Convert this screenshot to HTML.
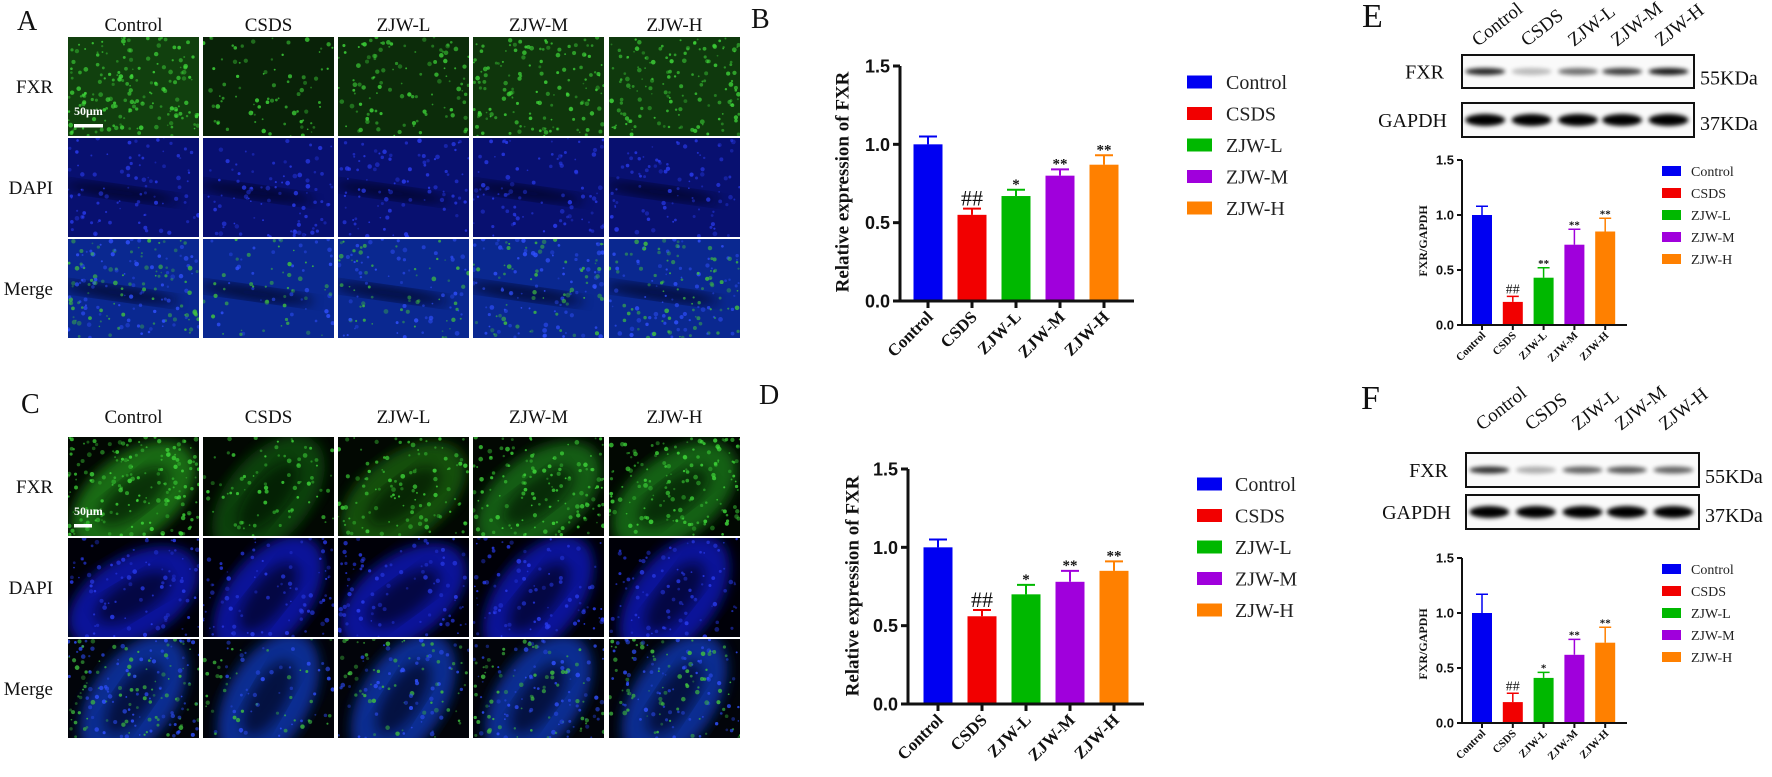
<!DOCTYPE html>
<html><head><meta charset="utf-8">
<style>
html,body{margin:0;padding:0;background:#fff;}
svg{display:block;}
.serif{font-family:"Liberation Serif",serif;}
.sans{font-family:"Liberation Sans",sans-serif;}
</style></head>
<body>
<svg id="fig" width="1772" height="777" viewBox="0 0 1772 777" xmlns="http://www.w3.org/2000/svg">
<defs>
  <filter id="blur2" x="-20%" y="-100%" width="140%" height="300%"><feGaussianBlur stdDeviation="2"/></filter>
  <filter id="blur1"><feGaussianBlur stdDeviation="0.8"/></filter>
  <filter id="blur6"><feGaussianBlur stdDeviation="6"/></filter>
</defs>
<g id="micro"></g>
<g id="charts"></g>
<g id="blots"></g>
</svg>
<script>
// ---------- DATA ----------
const categories = ['Control','CSDS','ZJW-L','ZJW-M','ZJW-H'];
const barColors = ['#0000f2','#f20000','#00b800','#a000dc','#ff8000'];
const bValues = [1.00, 0.55, 0.67, 0.80, 0.87];
const bErrors = [0.05, 0.04, 0.04, 0.04, 0.06];
const bMarks = ['', '##', '*', '**', '**'];
const dValues = [1.00, 0.56, 0.70, 0.78, 0.85];
const dErrors = [0.05, 0.04, 0.06, 0.07, 0.06];
const dMarks = ['', '##', '*', '**', '**'];
const eValues = [1.00, 0.21, 0.43, 0.73, 0.85];
const eErrors = [0.08, 0.05, 0.09, 0.14, 0.12];
const eMarks = ['', '##', '**', '**', '**'];
const fValues = [1.00, 0.19, 0.41, 0.62, 0.73];
const fErrors = [0.17, 0.08, 0.05, 0.14, 0.14];
const fMarks = ['', '##', '*', '**', '**'];
const yTicks = [0, 0.5, 1.0, 1.5];
const yTickLabels = ['0.0', '0.5', '1.0', '1.5'];
const eFxrBand = [0.85, 0.25, 0.55, 0.75, 0.9];
const fFxrBand = [0.8, 0.3, 0.6, 0.65, 0.6];

const NS = 'http://www.w3.org/2000/svg';
function mk(tag, attrs, parent, text) {
  const el = document.createElementNS(NS, tag);
  for (const k in attrs) el.setAttribute(k, attrs[k]);
  if (text !== undefined) el.textContent = text;
  if (parent) parent.appendChild(el);
  return el;
}
const charts = document.getElementById('charts');
const blots = document.getElementById('blots');
const micro = document.getElementById('micro');

// ---------- BAR CHARTS ----------
function drawChart(cfg) {
  const g = mk('g', {}, charts);
  
  
  const yScale = v => cfg.y0 - (v / 1.5) * (cfg.y0 - cfg.yTop);
  const xScale = i => cfg.c0 + i * cfg.step;
  // bars
  cfg.values.forEach((v, i) => {
    const cx = xScale(i), top = yScale(v), et = yScale(v + cfg.errors[i]);
    const bar = mk('rect', {x: cx - cfg.bw/2, y: top, width: cfg.bw, height: cfg.y0 - top, fill: barColors[i]}, g);
    
    
    const eb = mk('path', {d: `M${cx},${top} V${et} M${cx - cfg.cap},${et} H${cx + cfg.cap}`, stroke: barColors[i], 'stroke-width': cfg.ew, fill: 'none'}, g);
    
    
    if (cfg.marks[i]) {
      const isHash = cfg.marks[i].indexOf('#') >= 0;
      const t = mk('text', {x: cx, y: et - (isHash ? 3 : 1), 'text-anchor': 'middle', class: 'serif',
        'font-size': isHash ? cfg.hashFs : cfg.starFs, 'font-weight': isHash ? 'normal' : 'bold', fill: '#111'}, g, cfg.marks[i]);
      
      
    }
    // x tick + label
    mk('line', {x1: cx, x2: cx, y1: cfg.y0, y2: cfg.y0 + cfg.tl, stroke: '#111', 'stroke-width': cfg.aw}, g);
    const lx = cx + cfg.lblDx, ly = cfg.y0 + cfg.lblDy;
    const xl = mk('text', {x: lx, y: ly, 'text-anchor': 'end', class: 'serif', 'font-weight': 'bold', 'font-size': cfg.xFs, fill: '#111',
      transform: `rotate(-45 ${lx} ${ly})`}, g, categories[i]);
    
    
  });
  // axes
  const ax = mk('path', {d: `M${cfg.x0},${cfg.yTop} V${cfg.y0} H${cfg.xEnd}`, stroke: '#111', 'stroke-width': cfg.aw, fill: 'none'}, g);
  
  
  yTicks.forEach((v, i) => {
    const y = yScale(v);
    mk('line', {x1: cfg.x0 - cfg.tl, x2: cfg.x0, y1: y, y2: y, stroke: '#111', 'stroke-width': cfg.aw}, g);
    const tl = mk('text', {x: cfg.x0 - cfg.tl - 3, y: y + cfg.yFs*0.36, 'text-anchor': 'end', class: 'sans', 'font-weight': 'bold', 'font-size': cfg.yFs, fill: '#111'}, g, yTickLabels[i]);
    
    
  });
  const yt = mk('text', {x: cfg.tx, y: cfg.ty, 'text-anchor': 'middle', class: 'serif', 'font-weight': 'bold', 'font-size': cfg.tFs, fill: '#111',
    transform: `rotate(-90 ${cfg.tx} ${cfg.ty})`, 'dominant-baseline': 'central'}, g, cfg.title);
  
  
  // legend
  const lg = mk('g', {}, g);
  
  
  categories.forEach((c, i) => {
    const y = cfg.ly0 + i * cfg.lstep;
    const e = mk('g', {}, lg);
    
    
    mk('rect', {x: cfg.lx, y: y - cfg.lh/2, width: cfg.lw, height: cfg.lh, fill: barColors[i]}, e);
    mk('text', {x: cfg.ltx, y: y + cfg.lFs*0.35, class: 'serif', 'font-size': cfg.lFs, fill: '#222'}, e, c);
  });
}
const bigCfg = {bw: 29, step: 44, cap: 9, ew: 2, aw: 3, tl: 7, xFs: 17, yFs: 18, tFs: 19, hashFs: 22, starFs: 15,
  lblDx: 6, lblDy: 17, lw: 25, lh: 13, lstep: 31.5, lFs: 20, title: 'Relative expression of FXR'};
drawChart(Object.assign({}, bigCfg, {name: 'chart-b', values: bValues, errors: bErrors, marks: bMarks,
  x0: 900, y0: 301, yTop: 66, c0: 928, xEnd: 1134, tx: 843, ty: 182, lx: 1187, ltx: 1226, ly0: 82}));
drawChart(Object.assign({}, bigCfg, {name: 'chart-d', values: dValues, errors: dErrors, marks: dMarks,
  x0: 908, y0: 704, yTop: 469, c0: 938, xEnd: 1144, tx: 853, ty: 586, lx: 1197, ltx: 1235, ly0: 484}));
const smCfg = {bw: 20, step: 30.8, cap: 6, ew: 1.5, aw: 2, tl: 5, xFs: 11, yFs: 13, tFs: 12, hashFs: 14, starFs: 11,
  lblDx: 4, lblDy: 11, lw: 19, lh: 10, lstep: 22, lFs: 14, title: 'FXR/GAPDH'};
drawChart(Object.assign({}, smCfg, {name: 'chart-e', values: eValues, errors: eErrors, marks: eMarks,
  x0: 1462, y0: 325, yTop: 160, c0: 1482, xEnd: 1627, tx: 1423, ty: 241, lx: 1662, ltx: 1691, ly0: 171}));
drawChart(Object.assign({}, smCfg, {name: 'chart-f', values: fValues, errors: fErrors, marks: fMarks,
  x0: 1462, y0: 723, yTop: 558, c0: 1482, xEnd: 1627, tx: 1423, ty: 644, lx: 1662, ltx: 1691, ly0: 569}));

// ---------- WESTERN BLOTS ----------
function drawBlot(name, bx, bx2, fy, fy2, gy, gy2, laneY, fxrInt) {
  const g = mk('g', {}, blots);
  
  
  const w = bx2 - bx;
  const lanes = [0.1, 0.3, 0.5, 0.69, 0.89].map(f => bx + f * w);
  [[fy, fy2, 'fxr-blot'], [gy, gy2, 'gapdh-blot']].forEach(([a, b, n], k) => {
    const box = mk('rect', {x: bx, y: a, width: w, height: b - a, fill: '#fafafa', stroke: '#111', 'stroke-width': 2}, g);
    
    
    lanes.forEach((lx, i) => {
      const op = k === 0 ? fxrInt[i] : 1;
      mk('ellipse', {cx: lx, cy: (a + b) / 2, rx: 20, ry: k === 0 ? 3.5 : 6, fill: '#000', opacity: op, filter: 'url(#blur2)'}, g);
    });
  });
  const t1 = mk('text', {x: bx - 18, y: (fy + fy2) / 2 + 7, 'text-anchor': 'end', class: 'serif', 'font-size': 20, fill: '#111'}, g, 'FXR');
   
  const t2 = mk('text', {x: bx - 15, y: (gy + gy2) / 2 + 7, 'text-anchor': 'end', class: 'serif', 'font-size': 20, fill: '#111'}, g, 'GAPDH');
   
  const k1 = mk('text', {x: bx2 + 6, y: (fy + fy2) / 2 + 13, class: 'serif', 'font-size': 20, fill: '#111'}, g, '55KDa');
   
  const k2 = mk('text', {x: bx2 + 6, y: (gy + gy2) / 2 + 10, class: 'serif', 'font-size': 20, fill: '#111'}, g, '37KDa');
   
  const starts = [1478, 1527, 1574, 1617, 1661];
  categories.forEach((c, i) => {
    const x = starts[i] + (bx - 1462);
    const t = mk('text', {x: x, y: laneY, class: 'serif', 'font-size': 19, fill: '#111', transform: `rotate(-38 ${x} ${laneY})`}, g, c);
    
    
  });
}
drawBlot('blot-e', 1462, 1694, 55, 88, 103, 137, 47, eFxrBand);
drawBlot('blot-f', 1466, 1699, 453, 487, 495, 529, 431, fFxrBand);

// ---------- PANEL LETTERS ----------
[['A', 17, 30, 28], ['B', 751, 28, 28], ['C', 21, 413, 28], ['D', 759, 404, 28], ['E', 1362, 27, 34], ['F', 1361, 409, 34]].forEach(([l, x, y, fs]) => {
  const t = mk('text', {x: x, y: y, class: 'serif', 'font-size': fs, fill: '#111'}, document.getElementById('fig'), l);
  
  
});

// ---------- MICROSCOPY (illustrative texture) ----------
let seed = 12345;
function rnd() { seed = (seed * 1103515245 + 12345) % 2147483648; return seed / 2147483648; }
const colX = [68, 203, 338, 473, 609];
const colW = 131;
const colCenters = colX.map(x => x + colW / 2);
const greenLevel = [0.85, 0.25, 0.45, 0.65, 0.7];
function cell(g, x, y, w, h, kind, lvl, tissue) {
  const cg = mk('g', {}, g);
  const clipId = 'c' + Math.floor(rnd() * 1e9);
  const cp = mk('clipPath', {id: clipId}, cg);
  mk('rect', {x: x, y: y, width: w, height: h}, cp);
  const inner = mk('g', {'clip-path': `url(#${clipId})`}, cg);
  let base, dot;
  if (kind === 'fxr') { base = tissue ? '#020802' : `rgb(${6+lvl*14|0},${22+lvl*50|0},${6+lvl*10|0})`; dot = '#3fd83a'; }
  else if (kind === 'dapi') { base = tissue ? '#000008' : '#081070'; dot = '#2a3cf0'; }
  else { base = tissue ? '#02040a' : '#0a2890'; dot = '#40c040'; }
  mk('rect', {x: x, y: y, width: w, height: h, fill: base}, inner);
  if (tissue) {
    const ang = -30 - rnd() * 30;
    const tc = kind === 'fxr' ? `rgb(${10+lvl*20|0},${50+lvl*80|0},${10+lvl*15|0})` : (kind === 'dapi' ? '#0a18a8' : '#0c30a0');
    mk('ellipse', {cx: x + w * 0.5, cy: y + h * 0.6, rx: w * 0.55, ry: h * 0.42, fill: tc, opacity: 0.9,
      transform: `rotate(${ang} ${x + w*0.5} ${y + h*0.6})`, filter: 'url(#blur6)'}, inner);
    mk('ellipse', {cx: x + w * 0.5, cy: y + h * 0.6, rx: w * 0.32, ry: h * 0.18, fill: base, opacity: 0.6,
      transform: `rotate(${ang} ${x + w*0.5} ${y + h*0.6})`, filter: 'url(#blur6)'}, inner);
  } else if (kind !== 'fxr') {
    mk('ellipse', {cx: x + w * 0.4, cy: y + h * 0.55, rx: w * 0.45, ry: 7, fill: '#020418', opacity: 0.7,
      transform: `rotate(8 ${x + w*0.4} ${y + h*0.55})`, filter: 'url(#blur6)'}, inner);
  }
  const n = kind === 'dapi' ? 90 : Math.floor(40 + lvl * 160);
  for (let i = 0; i < n; i++) {
    const c = (kind === 'merge' && rnd() < 0.5) ? '#3050ff' : dot;
    mk('circle', {cx: x + rnd() * w, cy: y + rnd() * h, r: 0.8 + rnd() * 1.6, fill: c, opacity: 0.35 + rnd() * 0.5}, inner);
  }
}
function panel(name, top, labelY, tissue) {
  const g = mk('g', {}, micro);
  
  
  const rowsY = [top, top + 101, top + 202];
  const kinds = ['fxr', 'dapi', 'merge'];
  const rowNames = ['FXR', 'DAPI', 'Merge'];
  categories.forEach((c, ci) => {
    const t = mk('text', {x: colCenters[ci], y: labelY, 'text-anchor': 'middle', class: 'serif', 'font-size': 19, fill: '#111'}, g, c);
    
    
    rowsY.forEach((ry, ri) => cell(g, colX[ci], ry, colW, 99, kinds[ri], greenLevel[ci], tissue));
  });
  rowsY.forEach((ry, ri) => {
    const t = mk('text', {x: 53, y: ry + 56, 'text-anchor': 'end', class: 'serif', 'font-size': 19, fill: '#111'}, g, rowNames[ri]);
    
    
  });
  const sb = mk('text', {x: 74, y: top + 78, class: 'serif', 'font-weight': 'bold', 'font-size': 12, fill: '#fff'}, g, '50μm');
   
  const bar = mk('rect', {x: 74, y: top + 87, width: tissue ? 18 : 29, height: 3.5, fill: '#fff'}, g);
   
}
panel('panel-a', 37, 31, false);
panel('panel-c', 437, 423, true);
</script>
</body></html>
